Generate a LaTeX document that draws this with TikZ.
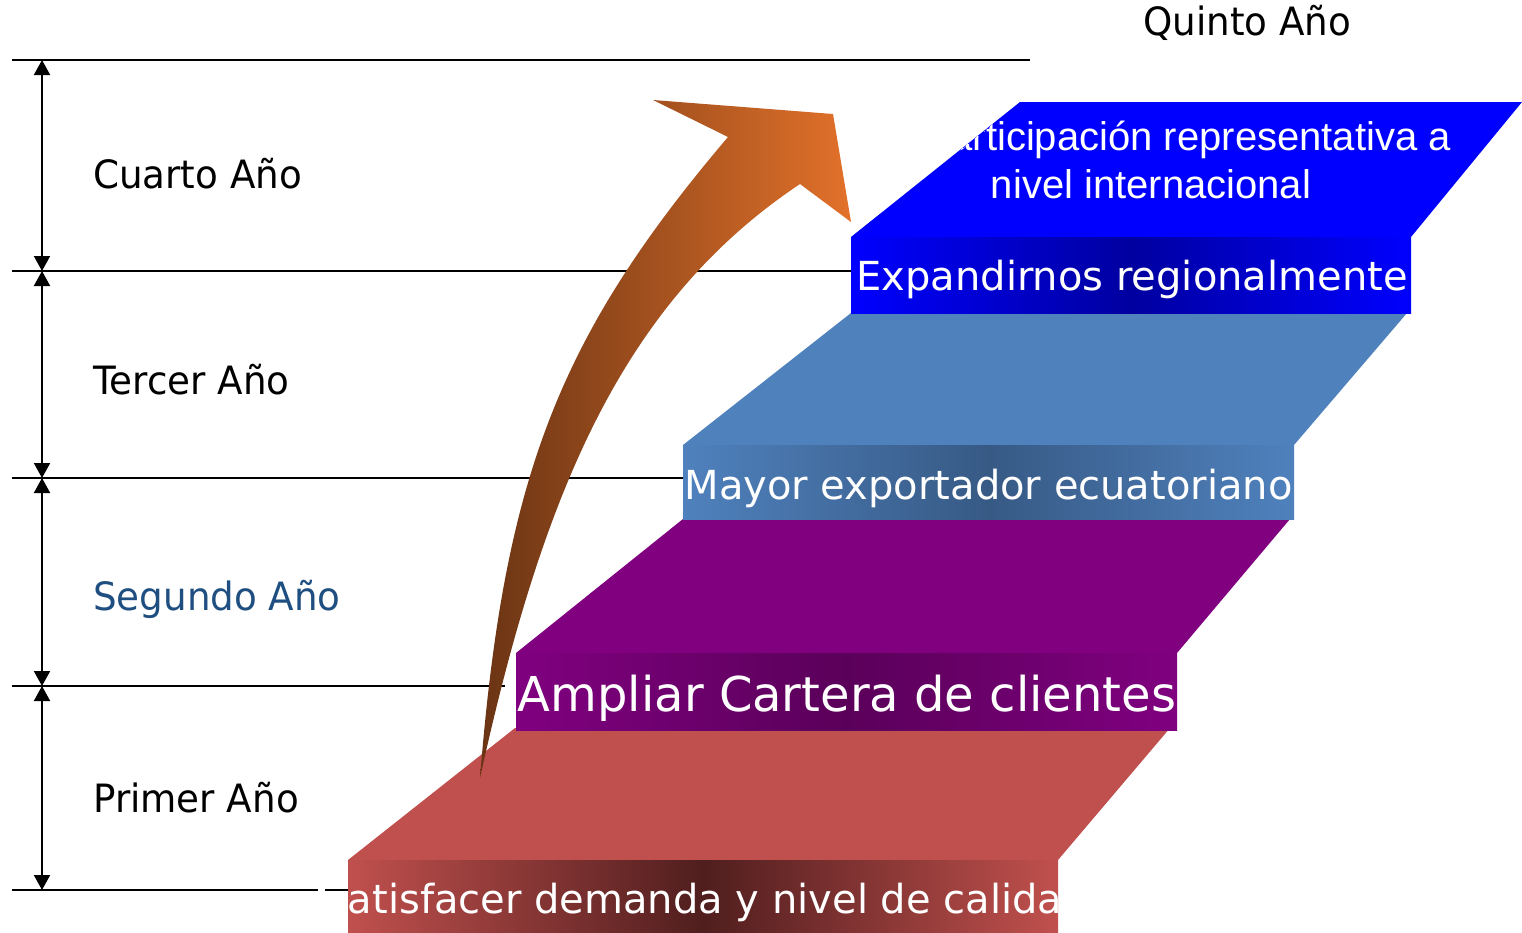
\documentclass[tikz,border=0pt]{standalone}
\usepackage{fontspec}
\usetikzlibrary{arrows.meta}
\newfontfamily\dejavu{DejaVu Sans}
\newfontfamily\lblfont[FakeStretch=0.955]{DejaVu Sans}
\newfontfamily\arialfont{Liberation Sans}
\definecolor{stepred}{HTML}{C0504D}
\definecolor{stepredD}{HTML}{501E1E}
\definecolor{steppur}{HTML}{800080}
\definecolor{steppurD}{HTML}{5A005A}
\definecolor{stepsteel}{HTML}{4F81BD}
\definecolor{stepsteelD}{HTML}{375A85}
\definecolor{stepblue}{HTML}{0000FF}
\definecolor{stepblueD}{HTML}{0000A0}
\definecolor{arrbrown}{HTML}{6A3414}
\definecolor{arrorange}{HTML}{E2712A}
\definecolor{segblue}{HTML}{1F4E80}
\begin{document}
\begin{tikzpicture}[x=1pt,y=-1pt,
  hline/.style={line width=1.5pt,black},
  dimarrow/.style={line width=2pt,{Triangle[length=15pt,width=16pt]}-{Triangle[length=15pt,width=16pt]}},
  yearlbl/.style={anchor=base west,inner sep=0pt,font=\lblfont\fontsize{39pt}{47pt}\selectfont},
  fronttxt/.style={anchor=base,inner sep=0pt,text=white,font=\dejavu\fontsize{40pt}{48pt}\selectfont},
  toptxt/.style={inner sep=0pt,text=white,font=\arialfont\fontsize{40pt}{48pt}\selectfont}]
\useasboundingbox (0,0) rectangle (1522,932);

% horizontal lines
\coordinate (h0a) at (12,60);  \coordinate (h0b) at (1030,60);
\coordinate (h1a) at (12,271); \coordinate (h1b) at (851,271);
\coordinate (h2a) at (12,478); \coordinate (h2b) at (683,478);
\coordinate (h3a) at (12,686); \coordinate (h3b) at (505,686);
\coordinate (h4a) at (12,890); \coordinate (h4b) at (318,890);
\coordinate (h4c) at (325,890); \coordinate (h4d) at (348,890);
\draw[hline] (h0a) -- (h0b);
\draw[hline] (h1a) -- (h1b);
\draw[hline] (h2a) -- (h2b);
\draw[hline] (h3a) -- (h3b);
\draw[hline] (h4a) -- (h4b);
\draw[hline] (h4c) -- (h4d);

% dimension arrows
\coordinate (d0) at (42,60);
\coordinate (d1) at (42,271);
\coordinate (d2) at (42,478);
\coordinate (d3) at (42,686);
\coordinate (d4) at (42,890);
\draw[dimarrow] (d0) -- (d1);
\draw[dimarrow] (d1) -- (d2);
\draw[dimarrow] (d2) -- (d3);
\draw[dimarrow] (d3) -- (d4);

% year labels
\node[yearlbl] (y4) at (93,188) {Cuarto Año};
\node[yearlbl] (y3) at (93,394) {Tercer Año};
\node[yearlbl,text=segblue] (y2) at (93,610) {Segundo Año};
\node[yearlbl] (y1) at (93,812) {Primer Año};
\node[yearlbl] (y5) at (1143,35) {Quinto Año};

% step 1 (red)
\fill[stepred] (348,860) -- (515,728) -- (1170,728) -- (1058,860) -- cycle;
\shade[left color=stepred,right color=stepred,middle color=stepredD] (348,860) rectangle (1058,932);
\begin{scope}
  \clip (348,860) rectangle (1058,932);
  \node[fronttxt] (s1) at (705,913) {Satisfacer demanda y nivel de calidad};
\end{scope}

% step 2 (purple)
\fill[steppur] (516,653) -- (683,519) -- (1290,519) -- (1177,653) -- cycle;
\shade[left color=steppur,right color=steppur,middle color=steppurD] (516,653) rectangle (1177,730);
\node[fronttxt,font=\dejavu\fontsize{48pt}{56pt}\selectfont] (s2) at (847,711) {Ampliar Cartera de clientes};

% step 3 (steel blue)
\fill[stepsteel] (683,445) -- (851,313) -- (1407,313) -- (1294,445) -- cycle;
\shade[left color=stepsteel,right color=stepsteel,middle color=stepsteelD] (683,445) rectangle (1294,519);
\node[fronttxt] (s3) at (988.5,499) {Mayor exportador ecuatoriano};

% step 4 (blue)
\fill[stepblue] (851,237) -- (1020,102) -- (1522,102) -- (1411,237) -- cycle;
\shade[left color=stepblue,right color=stepblue,middle color=stepblueD] (851,237) rectangle (1411,313);
\node[fronttxt] (s4) at (1132,290) {Expandirnos regionalmente};
\begin{scope}
  \clip (851,237) -- (1020,102) -- (1522,102) -- (1411,237) -- cycle;
  \node[toptxt,anchor=base east] (t1) at (1451,150) {Participación representativa a};
  \node[toptxt,anchor=base] (t2) at (1151,198) {nivel internacional};
\end{scope}

% big curved arrow
\shade[left color=arrbrown,right color=arrorange]
  (480,778) .. controls (504,478) and (558,337) .. (728,137)
  -- (653,100) -- (833,114) -- (851,222) -- (800,184)
  .. controls (620,304) and (541.6,498) .. (480,778)
  -- cycle;
\end{tikzpicture}
\end{document}
